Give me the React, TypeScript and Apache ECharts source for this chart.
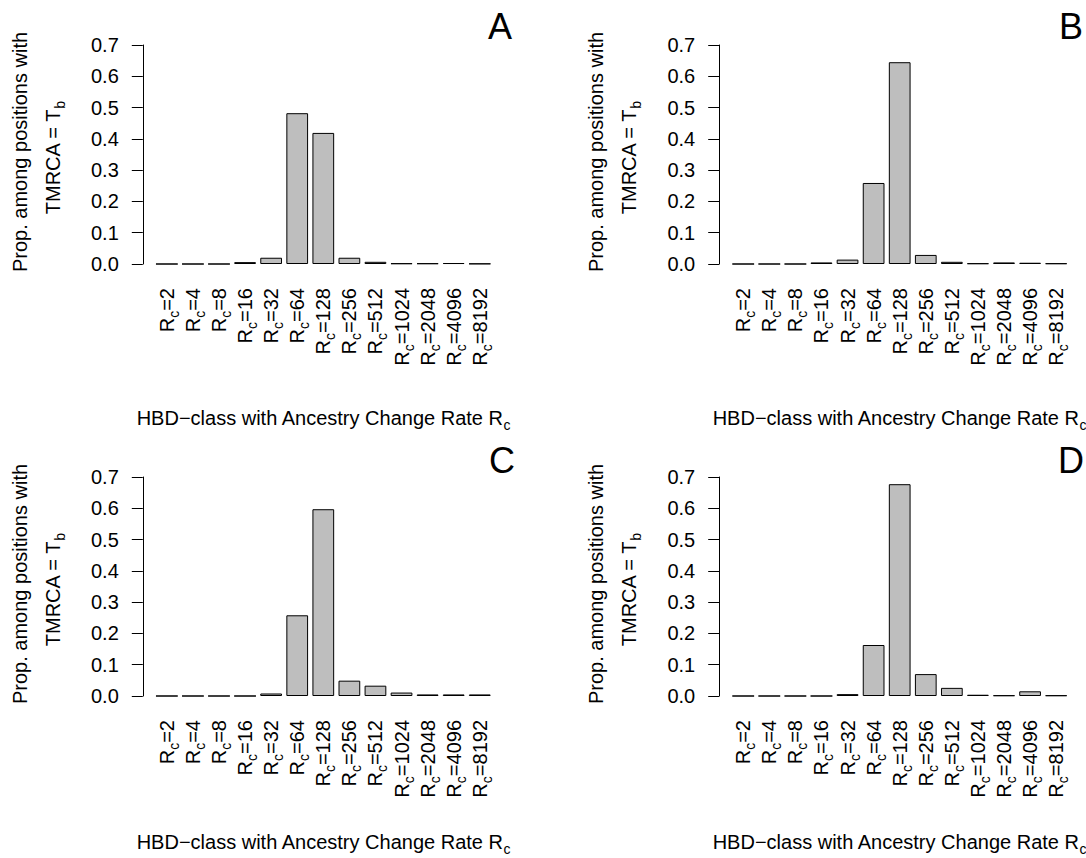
import React, { useEffect, useRef } from 'react';
import * as echarts from 'echarts';

const categories = ['2', '4', '8', '16', '32', '64', '128', '256', '512', '1024', '2048', '4096', '8192'];
const panelLabels = ['A', 'B', 'C', 'D'];
const valuesA = [0, 0, 0, 0.006, 0.02, 0.482, 0.419, 0.02, 0.007, 0.002, 0.002, 0.003, 0.001];
const valuesB = [0, 0, 0, 0.005, 0.014, 0.259, 0.645, 0.029, 0.007, 0.002, 0.005, 0.004, 0.002];
const valuesC = [0, 0, 0, 0, 0.008, 0.258, 0.597, 0.049, 0.033, 0.011, 0.005, 0.005, 0.005];
const valuesD = [0, 0, 0, 0, 0.006, 0.163, 0.677, 0.07, 0.026, 0.004, 0.002, 0.015, 0.002];
const yMin = 0;
const yMax = 0.7;
const yStep = 0.1;
const yTitleLine1 = 'Prop. among positions with';
const yTitleLine2 = 'TMRCA = T';
const yTitleSub = 'b';
const xTitle = 'HBD\u2212class with Ancestry Change Rate R';
const xTitleSub = 'c';

const FONT = '"Liberation Sans", Arial, Helvetica, sans-serif';

export default function App() {
  const ref = useRef<HTMLDivElement>(null);
  useEffect(() => {
    if (!ref.current) return;
    const chart = echarts.init(ref.current, null, { renderer: 'svg' });
    const allValues = [valuesA, valuesB, valuesC, valuesD];
    const colX = [153.8, 730.2];
    const rowY = [45, 477];
    const gw = 339;
    const gh = 219;
    const dy = 432;
    const dx = 576;

    const rich = {
      r: { fontSize: 20, fontFamily: FONT, color: '#000', lineHeight: 20, verticalAlign: 'middle' },
      s: { fontSize: 14, fontFamily: FONT, color: '#000', lineHeight: 14, padding: [10, 0, 0, 0], verticalAlign: 'top' },
    };

    const grids: any[] = [];
    const xAxes: any[] = [];
    const yAxes: any[] = [];
    const series: any[] = [];
    const graphics: any[] = [];

    allValues.forEach((vals, i) => {
      const col = i % 2;
      const row = Math.floor(i / 2);
      grids.push({ left: colX[col], top: rowY[row], width: gw, height: gh, containLabel: false });
      xAxes.push({
        type: 'category',
        gridIndex: i,
        data: categories,
        axisLine: { show: false },
        axisTick: { show: false },
        axisLabel: {
          rotate: 90,
          margin: 24,
          interval: 0,
          formatter: (v: string) => `{r|R}{s|c}{r|=${v}}`,
          rich,
        },
      });
      yAxes.push({
        type: 'value',
        gridIndex: i,
        min: yMin,
        max: yMax,
        interval: yStep,
        offset: 11,
        axisLine: { show: true, lineStyle: { color: '#000', width: 1 } },
        axisTick: { show: true, length: 11, lineStyle: { color: '#000', width: 1 } },
        axisLabel: { fontSize: 20, fontFamily: FONT, color: '#000', margin: 24, formatter: (v: number) => v.toFixed(1) },
        splitLine: { show: false },
      });
      series.push({
        type: 'bar',
        xAxisIndex: i,
        yAxisIndex: i,
        data: vals,
        barWidth: '83.33%',
        itemStyle: { color: '#bebebe', borderColor: '#000', borderWidth: 1 },
      });

      const ox = col * dx;
      const oy = row * dy;
      graphics.push({
        type: 'text',
        x: (col === 0 ? 500 : 1071) + (row === 1 && col === 0 ? 2 : 0),
        y: 26.5 + oy + (row === 1 ? 2 : 0),
        style: { text: panelLabels[i], fontSize: 36, fontFamily: FONT, fill: '#000', align: 'center', verticalAlign: 'middle' },
      });
      graphics.push({
        type: 'text',
        x: 19.5 + ox,
        y: 152 + oy,
        rotation: Math.PI / 2,
        style: { text: yTitleLine1, fontSize: 20, fontFamily: FONT, fill: '#000', align: 'center', verticalAlign: 'middle' },
      });
      graphics.push({
        type: 'text',
        x: 53 + ox,
        y: 158 + oy,
        rotation: Math.PI / 2,
        style: {
          text: `{r|${yTitleLine2}}{s|${yTitleSub}}`,
          rich,
          align: 'center',
          verticalAlign: 'middle',
        },
      });
      graphics.push({
        type: 'text',
        x: 323.3 + ox,
        y: row === 0 ? 418 : 842,
        style: {
          text: `{r|${xTitle}}{s|${xTitleSub}}`,
          rich,
          align: 'center',
          verticalAlign: 'middle',
        },
      });
    });

    chart.setOption({
      animation: false,
      backgroundColor: '#fff',
      textStyle: { fontFamily: FONT },
      grid: grids,
      xAxis: xAxes,
      yAxis: yAxes,
      series,
      graphic: graphics,
    });
    return () => chart.dispose();
  }, []);
  return <div ref={ref} style={{ position: 'absolute', left: 0, top: 0, width: 1086, height: 858 }} />;
}
